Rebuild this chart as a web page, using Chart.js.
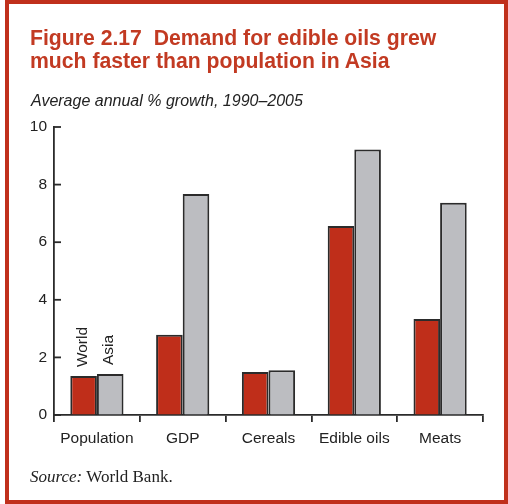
<!DOCTYPE html>
<html>
<head>
<meta charset="utf-8">
<script src="https://cdn.jsdelivr.net/npm/chart.js@4.4.1/dist/chart.umd.min.js"></script>
<style>
  body { margin: 0; background: #fff; }
  #page { position: relative; width: 508px; height: 504px; overflow: hidden; }
  #frame { position: absolute; left: 5px; top: 0; width: 503px; height: 504px;
    border: 4px solid #c0301c; box-sizing: border-box; }
  #title { position: absolute; left: 30px; top: 26px; font: bold 21.2px/23px "Liberation Sans", Arial, sans-serif;
    color: #c23a22; white-space: nowrap; }
  #subtitle { position: absolute; left: 31px; top: 91.5px; font: italic 16px/18px "Liberation Sans", Arial, sans-serif;
    color: #222; white-space: nowrap; }
  #source { position: absolute; left: 30px; top: 467px; font: 17px/19px "Liberation Serif", "Times New Roman", serif;
    color: #222; white-space: nowrap; }
  canvas { position: absolute; left: 0; top: 0; }
</style>
</head>
<body>
<div id="page">
  <canvas id="chart" width="508" height="504"></canvas>
  <div id="frame"></div>
  <div id="title">Figure 2.17&nbsp; Demand for edible oils grew<br>much faster than population in Asia</div>
  <div id="subtitle">Average annual % growth, 1990–2005</div>
  <div id="source"><i>Source:</i> World Bank.</div>
</div>
<script>
const categories = ['Population', 'GDP', 'Cereals', 'Edible oils', 'Meats'];
const worldGrowth = [1.35, 2.79, 1.49, 6.56, 3.33];
const asiaGrowth = [1.42, 7.67, 1.55, 9.22, 7.37];
const seriesNames = ['World', 'Asia'];
const yTicks = [0, 2, 4, 6, 8, 10];

const axisColor = '#2b2b2b';
const labelFont = { family: '"Liberation Sans", Arial, sans-serif', size: 15.5 };

// inward ticks on the value axis + rotated series names over the first group
const extras = {
  id: 'extras',
  afterDatasetsDraw(chart) {
    const ctx = chart.ctx;
    const y = chart.scales.y;
    ctx.save();
    ctx.strokeStyle = axisColor;
    ctx.lineWidth = 1.8;
    yTicks.forEach(v => {
      const py = y.getPixelForValue(v);
      ctx.beginPath();
      ctx.moveTo(y.right, py);
      ctx.lineTo(y.right + 7, py);
      ctx.stroke();
    });
    ctx.fillStyle = '#222';
    ctx.font = '15.5px "Liberation Sans", Arial, sans-serif';
    ctx.textAlign = 'left';
    ctx.textBaseline = 'middle';
    seriesNames.forEach((name, i) => {
      const bar = chart.getDatasetMeta(i).data[0];
      ctx.save();
      ctx.translate(bar.x - 1, bar.y - 9);
      ctx.rotate(-Math.PI / 2);
      ctx.fillText(name, 0, 0);
      ctx.restore();
    });
    ctx.restore();
  }
};

new Chart(document.getElementById('chart'), {
  type: 'bar',
  data: {
    labels: categories,
    datasets: [{
      label: seriesNames[0],
      data: worldGrowth,
      backgroundColor: '#bf2e1a',
      borderColor: axisColor,
      borderWidth: 2
    }, {
      label: seriesNames[1],
      data: asiaGrowth,
      backgroundColor: '#bcbdc1',
      borderColor: axisColor,
      borderWidth: 2
    }]
  },
  options: {
    responsive: false,
    animation: false,
    categoryPercentage: 0.62,
    barPercentage: 1,
    layout: { padding: { left: 0, right: 25, top: 127, bottom: 49 } },
    plugins: { legend: { display: false }, tooltip: { enabled: false } },
    scales: {
      x: {
        offset: true,
        grid: { offset: true, drawOnChartArea: false, drawTicks: true, tickLength: 7, color: axisColor, lineWidth: 1.8 },
        border: { display: true, color: axisColor, width: 1.8 },
        ticks: { color: '#222', padding: 7, font: labelFont },
        afterFit(scale) { scale.height = 40; }
      },
      y: {
        min: 0,
        max: 10,
        afterBuildTicks(scale) { scale.ticks = yTicks.map(v => ({ value: v })); },
        grid: { display: true, drawOnChartArea: false, drawTicks: false },
        border: { display: true, color: axisColor, width: 1.8 },
        ticks: { color: '#222', padding: 7, font: labelFont },
        afterFit(scale) { scale.width = 54; }
      }
    }
  },
  plugins: [extras]
});
</script>
</body>
</html>
